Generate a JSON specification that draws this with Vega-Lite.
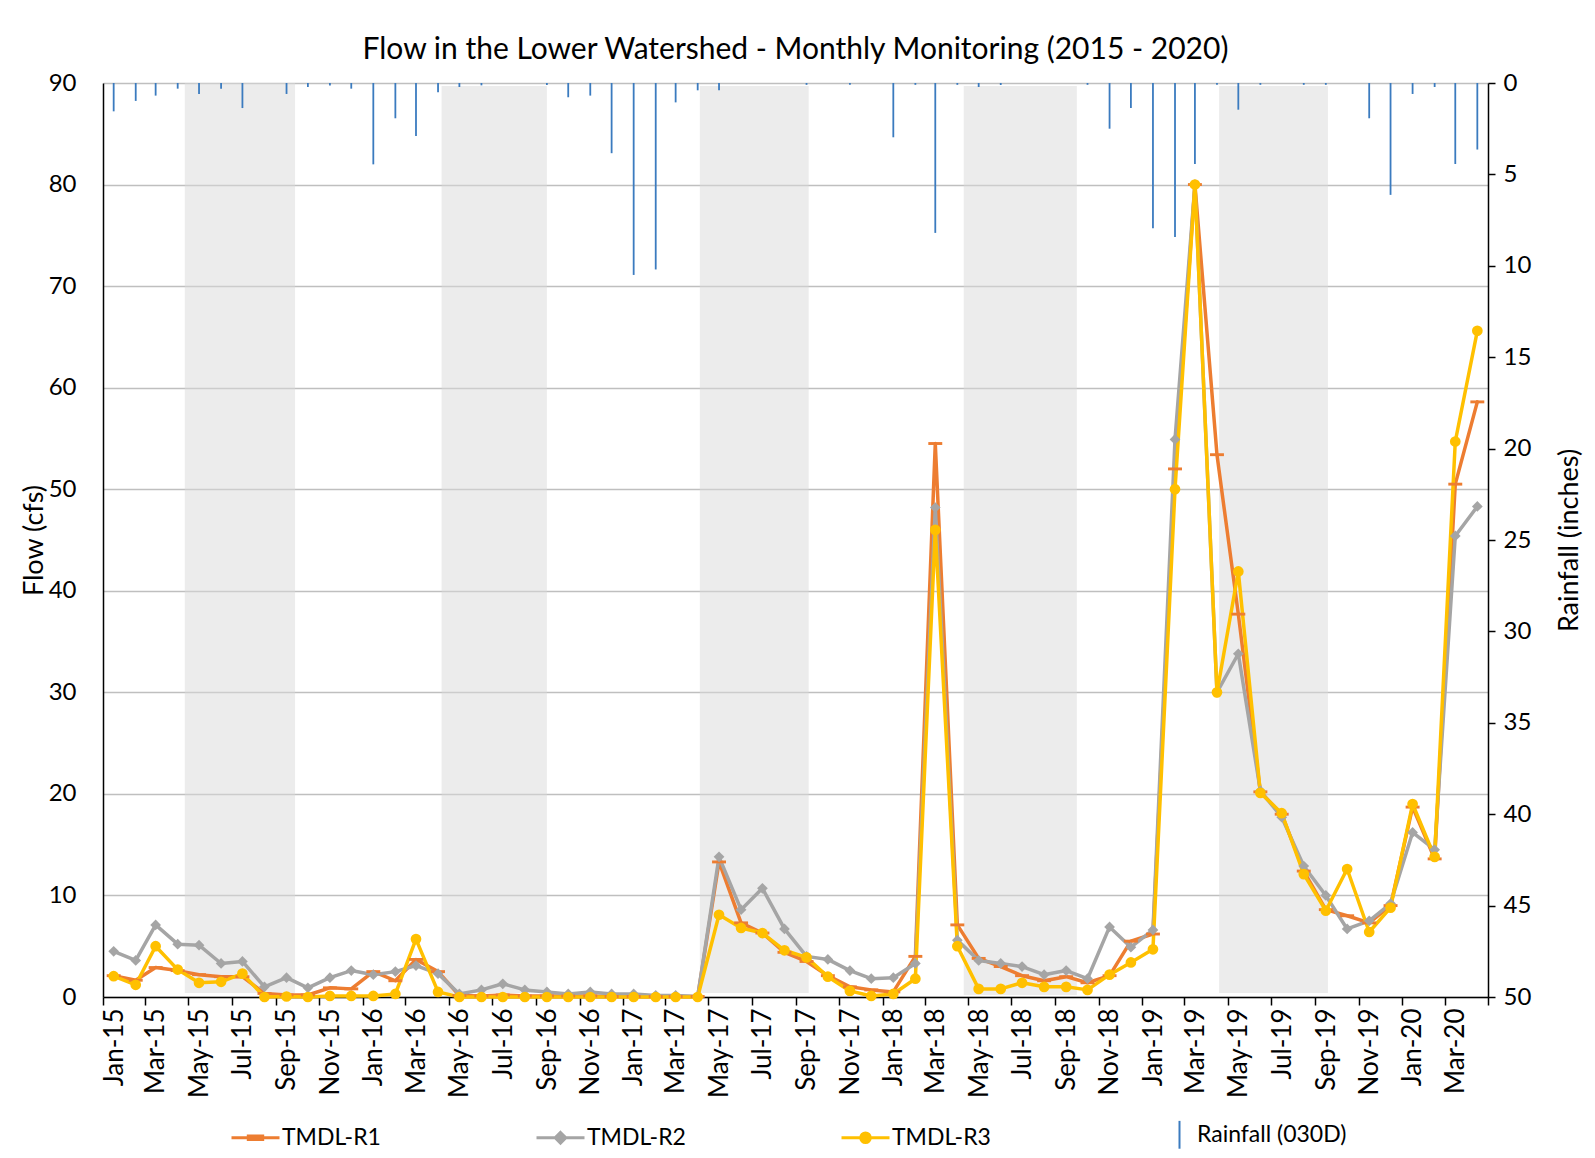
{
  "$schema": "https://vega.github.io/schema/vega-lite/v6.json",
  "width": 1385,
  "height": 914,
  "autosize": {"type": "none"},
  "padding": {"left": 103, "top": 83, "right": 107, "bottom": 161},
  "background": "#ffffff",
  "title": {"text": "Flow in the Lower Watershed - Monthly Monitoring (2015 - 2020)", "font": "Lato", "fontSize": 30, "fontWeight": "normal", "color": "#000000", "anchor": "middle", "offset": 6},
  "config": {
    "view": {"stroke": null},
    "font": "Lato",
    "axis": {"labelFont": "Lato", "titleFont": "Lato", "labelColor": "#000000", "titleColor": "#000000", "titleFontWeight": "normal"}
  },
  "datasets": {
    "bands": [
      {"start": "2015-04-26", "end": "2015-09-28", "lo": 0.4, "hi": 90},
      {"start": "2016-04-21", "end": "2016-09-16", "lo": 0.4, "hi": 89.7},
      {"start": "2017-04-19", "end": "2017-09-19", "lo": 0.4, "hi": 89.7},
      {"start": "2018-04-25", "end": "2018-10-01", "lo": 0.2, "hi": 89.7},
      {"start": "2019-04-19", "end": "2019-09-19", "lo": 0.4, "hi": 89.7}
    ],
    "flow": [
      {"date": "2015-01-16", "series": "TMDL-R1", "flow": 2.1},
      {"date": "2015-02-16", "series": "TMDL-R1", "flow": 1.65},
      {"date": "2015-03-16", "series": "TMDL-R1", "flow": 2.9},
      {"date": "2015-04-16", "series": "TMDL-R1", "flow": 2.6},
      {"date": "2015-05-16", "series": "TMDL-R1", "flow": 2.2},
      {"date": "2015-06-16", "series": "TMDL-R1", "flow": 2.0},
      {"date": "2015-07-16", "series": "TMDL-R1", "flow": 2.0},
      {"date": "2015-08-16", "series": "TMDL-R1", "flow": 0.35},
      {"date": "2015-09-16", "series": "TMDL-R1", "flow": 0.2},
      {"date": "2015-10-16", "series": "TMDL-R1", "flow": 0.2},
      {"date": "2015-11-16", "series": "TMDL-R1", "flow": 0.9},
      {"date": "2015-12-16", "series": "TMDL-R1", "flow": 0.8},
      {"date": "2016-01-16", "series": "TMDL-R1", "flow": 2.5},
      {"date": "2016-02-16", "series": "TMDL-R1", "flow": 1.6},
      {"date": "2016-03-16", "series": "TMDL-R1", "flow": 3.7},
      {"date": "2016-04-16", "series": "TMDL-R1", "flow": 2.5},
      {"date": "2016-05-16", "series": "TMDL-R1", "flow": 0.15},
      {"date": "2016-06-16", "series": "TMDL-R1", "flow": 0.1},
      {"date": "2016-07-16", "series": "TMDL-R1", "flow": 0.2},
      {"date": "2016-08-16", "series": "TMDL-R1", "flow": 0.1},
      {"date": "2016-09-16", "series": "TMDL-R1", "flow": 0.1},
      {"date": "2016-10-16", "series": "TMDL-R1", "flow": 0.1},
      {"date": "2016-11-16", "series": "TMDL-R1", "flow": 0.1},
      {"date": "2016-12-16", "series": "TMDL-R1", "flow": 0.05},
      {"date": "2017-01-16", "series": "TMDL-R1", "flow": 0.05},
      {"date": "2017-02-16", "series": "TMDL-R1", "flow": 0.05},
      {"date": "2017-03-16", "series": "TMDL-R1", "flow": 0.05},
      {"date": "2017-04-16", "series": "TMDL-R1", "flow": 0.05},
      {"date": "2017-05-16", "series": "TMDL-R1", "flow": 13.3},
      {"date": "2017-06-16", "series": "TMDL-R1", "flow": 7.3},
      {"date": "2017-07-16", "series": "TMDL-R1", "flow": 6.3},
      {"date": "2017-08-16", "series": "TMDL-R1", "flow": 4.4},
      {"date": "2017-09-16", "series": "TMDL-R1", "flow": 3.5},
      {"date": "2017-10-16", "series": "TMDL-R1", "flow": 2.1},
      {"date": "2017-11-16", "series": "TMDL-R1", "flow": 1.0},
      {"date": "2017-12-16", "series": "TMDL-R1", "flow": 0.7},
      {"date": "2018-01-16", "series": "TMDL-R1", "flow": 0.5},
      {"date": "2018-02-16", "series": "TMDL-R1", "flow": 4.0},
      {"date": "2018-03-16", "series": "TMDL-R1", "flow": 54.5},
      {"date": "2018-04-16", "series": "TMDL-R1", "flow": 7.1},
      {"date": "2018-05-16", "series": "TMDL-R1", "flow": 3.8},
      {"date": "2018-06-16", "series": "TMDL-R1", "flow": 3.0},
      {"date": "2018-07-16", "series": "TMDL-R1", "flow": 2.1},
      {"date": "2018-08-16", "series": "TMDL-R1", "flow": 1.6},
      {"date": "2018-09-16", "series": "TMDL-R1", "flow": 2.0},
      {"date": "2018-10-16", "series": "TMDL-R1", "flow": 1.4},
      {"date": "2018-11-16", "series": "TMDL-R1", "flow": 2.1},
      {"date": "2018-12-16", "series": "TMDL-R1", "flow": 5.5},
      {"date": "2019-01-16", "series": "TMDL-R1", "flow": 6.2},
      {"date": "2019-02-16", "series": "TMDL-R1", "flow": 52.0},
      {"date": "2019-03-16", "series": "TMDL-R1", "flow": 80.0},
      {"date": "2019-04-16", "series": "TMDL-R1", "flow": 53.4},
      {"date": "2019-05-16", "series": "TMDL-R1", "flow": 37.7},
      {"date": "2019-06-16", "series": "TMDL-R1", "flow": 20.2},
      {"date": "2019-07-16", "series": "TMDL-R1", "flow": 18.0},
      {"date": "2019-08-16", "series": "TMDL-R1", "flow": 12.4},
      {"date": "2019-09-16", "series": "TMDL-R1", "flow": 8.6},
      {"date": "2019-10-16", "series": "TMDL-R1", "flow": 8.0},
      {"date": "2019-11-16", "series": "TMDL-R1", "flow": 7.3},
      {"date": "2019-12-16", "series": "TMDL-R1", "flow": 9.0},
      {"date": "2020-01-16", "series": "TMDL-R1", "flow": 18.7},
      {"date": "2020-02-16", "series": "TMDL-R1", "flow": 13.6},
      {"date": "2020-03-16", "series": "TMDL-R1", "flow": 50.5},
      {"date": "2020-04-16", "series": "TMDL-R1", "flow": 58.6},
      {"date": "2015-01-16", "series": "TMDL-R2", "flow": 4.5},
      {"date": "2015-02-16", "series": "TMDL-R2", "flow": 3.6},
      {"date": "2015-03-16", "series": "TMDL-R2", "flow": 7.1},
      {"date": "2015-04-16", "series": "TMDL-R2", "flow": 5.2},
      {"date": "2015-05-16", "series": "TMDL-R2", "flow": 5.1},
      {"date": "2015-06-16", "series": "TMDL-R2", "flow": 3.3},
      {"date": "2015-07-16", "series": "TMDL-R2", "flow": 3.5},
      {"date": "2015-08-16", "series": "TMDL-R2", "flow": 1.0},
      {"date": "2015-09-16", "series": "TMDL-R2", "flow": 1.9},
      {"date": "2015-10-16", "series": "TMDL-R2", "flow": 0.9},
      {"date": "2015-11-16", "series": "TMDL-R2", "flow": 1.9},
      {"date": "2015-12-16", "series": "TMDL-R2", "flow": 2.6},
      {"date": "2016-01-16", "series": "TMDL-R2", "flow": 2.2},
      {"date": "2016-02-16", "series": "TMDL-R2", "flow": 2.5},
      {"date": "2016-03-16", "series": "TMDL-R2", "flow": 3.1},
      {"date": "2016-04-16", "series": "TMDL-R2", "flow": 2.3},
      {"date": "2016-05-16", "series": "TMDL-R2", "flow": 0.3},
      {"date": "2016-06-16", "series": "TMDL-R2", "flow": 0.7},
      {"date": "2016-07-16", "series": "TMDL-R2", "flow": 1.3},
      {"date": "2016-08-16", "series": "TMDL-R2", "flow": 0.7},
      {"date": "2016-09-16", "series": "TMDL-R2", "flow": 0.5},
      {"date": "2016-10-16", "series": "TMDL-R2", "flow": 0.3},
      {"date": "2016-11-16", "series": "TMDL-R2", "flow": 0.5},
      {"date": "2016-12-16", "series": "TMDL-R2", "flow": 0.3},
      {"date": "2017-01-16", "series": "TMDL-R2", "flow": 0.3},
      {"date": "2017-02-16", "series": "TMDL-R2", "flow": 0.15},
      {"date": "2017-03-16", "series": "TMDL-R2", "flow": 0.15},
      {"date": "2017-04-16", "series": "TMDL-R2", "flow": 0.05},
      {"date": "2017-05-16", "series": "TMDL-R2", "flow": 13.8},
      {"date": "2017-06-16", "series": "TMDL-R2", "flow": 8.6},
      {"date": "2017-07-16", "series": "TMDL-R2", "flow": 10.7},
      {"date": "2017-08-16", "series": "TMDL-R2", "flow": 6.7},
      {"date": "2017-09-16", "series": "TMDL-R2", "flow": 4.0},
      {"date": "2017-10-16", "series": "TMDL-R2", "flow": 3.7},
      {"date": "2017-11-16", "series": "TMDL-R2", "flow": 2.6},
      {"date": "2017-12-16", "series": "TMDL-R2", "flow": 1.8},
      {"date": "2018-01-16", "series": "TMDL-R2", "flow": 1.9},
      {"date": "2018-02-16", "series": "TMDL-R2", "flow": 3.3},
      {"date": "2018-03-16", "series": "TMDL-R2", "flow": 48.2},
      {"date": "2018-04-16", "series": "TMDL-R2", "flow": 5.6},
      {"date": "2018-05-16", "series": "TMDL-R2", "flow": 3.6},
      {"date": "2018-06-16", "series": "TMDL-R2", "flow": 3.3},
      {"date": "2018-07-16", "series": "TMDL-R2", "flow": 3.0},
      {"date": "2018-08-16", "series": "TMDL-R2", "flow": 2.2},
      {"date": "2018-09-16", "series": "TMDL-R2", "flow": 2.6},
      {"date": "2018-10-16", "series": "TMDL-R2", "flow": 1.8},
      {"date": "2018-11-16", "series": "TMDL-R2", "flow": 6.9},
      {"date": "2018-12-16", "series": "TMDL-R2", "flow": 4.9},
      {"date": "2019-01-16", "series": "TMDL-R2", "flow": 6.6},
      {"date": "2019-02-16", "series": "TMDL-R2", "flow": 54.9},
      {"date": "2019-03-16", "series": "TMDL-R2", "flow": 80.0},
      {"date": "2019-04-16", "series": "TMDL-R2", "flow": 30.0},
      {"date": "2019-05-16", "series": "TMDL-R2", "flow": 33.8},
      {"date": "2019-06-16", "series": "TMDL-R2", "flow": 20.3},
      {"date": "2019-07-16", "series": "TMDL-R2", "flow": 17.7},
      {"date": "2019-08-16", "series": "TMDL-R2", "flow": 12.9},
      {"date": "2019-09-16", "series": "TMDL-R2", "flow": 10.0},
      {"date": "2019-10-16", "series": "TMDL-R2", "flow": 6.7},
      {"date": "2019-11-16", "series": "TMDL-R2", "flow": 7.5},
      {"date": "2019-12-16", "series": "TMDL-R2", "flow": 9.2},
      {"date": "2020-01-16", "series": "TMDL-R2", "flow": 16.2},
      {"date": "2020-02-16", "series": "TMDL-R2", "flow": 14.5},
      {"date": "2020-03-16", "series": "TMDL-R2", "flow": 45.4},
      {"date": "2020-04-16", "series": "TMDL-R2", "flow": 48.3},
      {"date": "2015-01-16", "series": "TMDL-R3", "flow": 2.05},
      {"date": "2015-02-16", "series": "TMDL-R3", "flow": 1.2},
      {"date": "2015-03-16", "series": "TMDL-R3", "flow": 5.0},
      {"date": "2015-04-16", "series": "TMDL-R3", "flow": 2.7},
      {"date": "2015-05-16", "series": "TMDL-R3", "flow": 1.4},
      {"date": "2015-06-16", "series": "TMDL-R3", "flow": 1.5},
      {"date": "2015-07-16", "series": "TMDL-R3", "flow": 2.3},
      {"date": "2015-08-16", "series": "TMDL-R3", "flow": 0.0},
      {"date": "2015-09-16", "series": "TMDL-R3", "flow": 0.05},
      {"date": "2015-10-16", "series": "TMDL-R3", "flow": 0.0},
      {"date": "2015-11-16", "series": "TMDL-R3", "flow": 0.1},
      {"date": "2015-12-16", "series": "TMDL-R3", "flow": 0.1},
      {"date": "2016-01-16", "series": "TMDL-R3", "flow": 0.1},
      {"date": "2016-02-16", "series": "TMDL-R3", "flow": 0.3},
      {"date": "2016-03-16", "series": "TMDL-R3", "flow": 5.7},
      {"date": "2016-04-16", "series": "TMDL-R3", "flow": 0.5},
      {"date": "2016-05-16", "series": "TMDL-R3", "flow": 0.0},
      {"date": "2016-06-16", "series": "TMDL-R3", "flow": 0.0},
      {"date": "2016-07-16", "series": "TMDL-R3", "flow": 0.0},
      {"date": "2016-08-16", "series": "TMDL-R3", "flow": 0.0},
      {"date": "2016-09-16", "series": "TMDL-R3", "flow": 0.0},
      {"date": "2016-10-16", "series": "TMDL-R3", "flow": 0.0},
      {"date": "2016-11-16", "series": "TMDL-R3", "flow": 0.0},
      {"date": "2016-12-16", "series": "TMDL-R3", "flow": 0.0},
      {"date": "2017-01-16", "series": "TMDL-R3", "flow": 0.0},
      {"date": "2017-02-16", "series": "TMDL-R3", "flow": 0.0},
      {"date": "2017-03-16", "series": "TMDL-R3", "flow": 0.0},
      {"date": "2017-04-16", "series": "TMDL-R3", "flow": 0.0},
      {"date": "2017-05-16", "series": "TMDL-R3", "flow": 8.1},
      {"date": "2017-06-16", "series": "TMDL-R3", "flow": 6.8},
      {"date": "2017-07-16", "series": "TMDL-R3", "flow": 6.3},
      {"date": "2017-08-16", "series": "TMDL-R3", "flow": 4.6},
      {"date": "2017-09-16", "series": "TMDL-R3", "flow": 3.9},
      {"date": "2017-10-16", "series": "TMDL-R3", "flow": 2.0},
      {"date": "2017-11-16", "series": "TMDL-R3", "flow": 0.6},
      {"date": "2017-12-16", "series": "TMDL-R3", "flow": 0.1},
      {"date": "2018-01-16", "series": "TMDL-R3", "flow": 0.3},
      {"date": "2018-02-16", "series": "TMDL-R3", "flow": 1.8},
      {"date": "2018-03-16", "series": "TMDL-R3", "flow": 46.0},
      {"date": "2018-04-16", "series": "TMDL-R3", "flow": 5.0},
      {"date": "2018-05-16", "series": "TMDL-R3", "flow": 0.8},
      {"date": "2018-06-16", "series": "TMDL-R3", "flow": 0.8},
      {"date": "2018-07-16", "series": "TMDL-R3", "flow": 1.4},
      {"date": "2018-08-16", "series": "TMDL-R3", "flow": 1.0},
      {"date": "2018-09-16", "series": "TMDL-R3", "flow": 1.0},
      {"date": "2018-10-16", "series": "TMDL-R3", "flow": 0.7},
      {"date": "2018-11-16", "series": "TMDL-R3", "flow": 2.2},
      {"date": "2018-12-16", "series": "TMDL-R3", "flow": 3.4},
      {"date": "2019-01-16", "series": "TMDL-R3", "flow": 4.7},
      {"date": "2019-02-16", "series": "TMDL-R3", "flow": 50.0},
      {"date": "2019-03-16", "series": "TMDL-R3", "flow": 80.0},
      {"date": "2019-04-16", "series": "TMDL-R3", "flow": 30.0},
      {"date": "2019-05-16", "series": "TMDL-R3", "flow": 41.9},
      {"date": "2019-06-16", "series": "TMDL-R3", "flow": 20.1},
      {"date": "2019-07-16", "series": "TMDL-R3", "flow": 18.1},
      {"date": "2019-08-16", "series": "TMDL-R3", "flow": 12.1},
      {"date": "2019-09-16", "series": "TMDL-R3", "flow": 8.5},
      {"date": "2019-10-16", "series": "TMDL-R3", "flow": 12.6},
      {"date": "2019-11-16", "series": "TMDL-R3", "flow": 6.4},
      {"date": "2019-12-16", "series": "TMDL-R3", "flow": 8.8},
      {"date": "2020-01-16", "series": "TMDL-R3", "flow": 19.0},
      {"date": "2020-02-16", "series": "TMDL-R3", "flow": 13.8},
      {"date": "2020-03-16", "series": "TMDL-R3", "flow": 54.7},
      {"date": "2020-04-16", "series": "TMDL-R3", "flow": 65.6}
    ],
    "rain": [
      {"date": "2015-01-16", "series": "Rainfall (030D)", "rain": 1.55},
      {"date": "2015-02-16", "series": "Rainfall (030D)", "rain": 0.98},
      {"date": "2015-03-16", "series": "Rainfall (030D)", "rain": 0.69},
      {"date": "2015-04-16", "series": "Rainfall (030D)", "rain": 0.31},
      {"date": "2015-05-16", "series": "Rainfall (030D)", "rain": 0.6},
      {"date": "2015-06-16", "series": "Rainfall (030D)", "rain": 0.31},
      {"date": "2015-07-16", "series": "Rainfall (030D)", "rain": 1.37},
      {"date": "2015-08-16", "series": "Rainfall (030D)", "rain": 0},
      {"date": "2015-09-16", "series": "Rainfall (030D)", "rain": 0.6},
      {"date": "2015-10-16", "series": "Rainfall (030D)", "rain": 0.22},
      {"date": "2015-11-16", "series": "Rainfall (030D)", "rain": 0.13},
      {"date": "2015-12-16", "series": "Rainfall (030D)", "rain": 0.31},
      {"date": "2016-01-16", "series": "Rainfall (030D)", "rain": 4.45},
      {"date": "2016-02-16", "series": "Rainfall (030D)", "rain": 1.93},
      {"date": "2016-03-16", "series": "Rainfall (030D)", "rain": 2.9},
      {"date": "2016-04-16", "series": "Rainfall (030D)", "rain": 0.51},
      {"date": "2016-05-16", "series": "Rainfall (030D)", "rain": 0.22},
      {"date": "2016-06-16", "series": "Rainfall (030D)", "rain": 0.13},
      {"date": "2016-07-16", "series": "Rainfall (030D)", "rain": 0},
      {"date": "2016-08-16", "series": "Rainfall (030D)", "rain": 0},
      {"date": "2016-09-16", "series": "Rainfall (030D)", "rain": 0.11},
      {"date": "2016-10-16", "series": "Rainfall (030D)", "rain": 0.78},
      {"date": "2016-11-16", "series": "Rainfall (030D)", "rain": 0.69},
      {"date": "2016-12-16", "series": "Rainfall (030D)", "rain": 3.84},
      {"date": "2017-01-16", "series": "Rainfall (030D)", "rain": 10.5},
      {"date": "2017-02-16", "series": "Rainfall (030D)", "rain": 10.2},
      {"date": "2017-03-16", "series": "Rainfall (030D)", "rain": 1.06},
      {"date": "2017-04-16", "series": "Rainfall (030D)", "rain": 0.4},
      {"date": "2017-05-16", "series": "Rainfall (030D)", "rain": 0.4},
      {"date": "2017-06-16", "series": "Rainfall (030D)", "rain": 0},
      {"date": "2017-07-16", "series": "Rainfall (030D)", "rain": 0},
      {"date": "2017-08-16", "series": "Rainfall (030D)", "rain": 0},
      {"date": "2017-09-16", "series": "Rainfall (030D)", "rain": 0.1},
      {"date": "2017-10-16", "series": "Rainfall (030D)", "rain": 0},
      {"date": "2017-11-16", "series": "Rainfall (030D)", "rain": 0.1},
      {"date": "2017-12-16", "series": "Rainfall (030D)", "rain": 0},
      {"date": "2018-01-16", "series": "Rainfall (030D)", "rain": 2.97},
      {"date": "2018-02-16", "series": "Rainfall (030D)", "rain": 0.1},
      {"date": "2018-03-16", "series": "Rainfall (030D)", "rain": 8.2},
      {"date": "2018-04-16", "series": "Rainfall (030D)", "rain": 0.1},
      {"date": "2018-05-16", "series": "Rainfall (030D)", "rain": 0.22},
      {"date": "2018-06-16", "series": "Rainfall (030D)", "rain": 0.11},
      {"date": "2018-07-16", "series": "Rainfall (030D)", "rain": 0},
      {"date": "2018-08-16", "series": "Rainfall (030D)", "rain": 0},
      {"date": "2018-09-16", "series": "Rainfall (030D)", "rain": 0},
      {"date": "2018-10-16", "series": "Rainfall (030D)", "rain": 0.1},
      {"date": "2018-11-16", "series": "Rainfall (030D)", "rain": 2.5},
      {"date": "2018-12-16", "series": "Rainfall (030D)", "rain": 1.37},
      {"date": "2019-01-16", "series": "Rainfall (030D)", "rain": 7.94},
      {"date": "2019-02-16", "series": "Rainfall (030D)", "rain": 8.43},
      {"date": "2019-03-16", "series": "Rainfall (030D)", "rain": 4.43},
      {"date": "2019-04-16", "series": "Rainfall (030D)", "rain": 0.1},
      {"date": "2019-05-16", "series": "Rainfall (030D)", "rain": 1.46},
      {"date": "2019-06-16", "series": "Rainfall (030D)", "rain": 0.1},
      {"date": "2019-07-16", "series": "Rainfall (030D)", "rain": 0},
      {"date": "2019-08-16", "series": "Rainfall (030D)", "rain": 0.1},
      {"date": "2019-09-16", "series": "Rainfall (030D)", "rain": 0.1},
      {"date": "2019-10-16", "series": "Rainfall (030D)", "rain": 0},
      {"date": "2019-11-16", "series": "Rainfall (030D)", "rain": 1.93},
      {"date": "2019-12-16", "series": "Rainfall (030D)", "rain": 6.12},
      {"date": "2020-01-16", "series": "Rainfall (030D)", "rain": 0.6},
      {"date": "2020-02-16", "series": "Rainfall (030D)", "rain": 0.22},
      {"date": "2020-03-16", "series": "Rainfall (030D)", "rain": 4.43},
      {"date": "2020-04-16", "series": "Rainfall (030D)", "rain": 3.64}
    ]
  },
  "layer": [
    {
      "layer": [
        {
          "data": {"name": "bands"},
          "mark": {"type": "rect", "fill": "#d9d9d9", "opacity": 0.5},
          "encoding": {
            "x": {"field": "start", "type": "temporal",
              "scale": {"type": "utc", "domain": ["2015-01-01", "2020-05-01"], "nice": false},
              "axis": {"orient": "bottom", "title": null, "grid": false,
                "tickCount": {"interval": "month", "step": 2},
                "labelExpr": "utcFormat(datum.value, '%b-%y') == 'May-20' ? '' : utcFormat(datum.value, '%b-%y')",
                "labelAngle": 270, "labelAlign": "right", "labelBaseline": "middle",
                "labelOffset": 11, "labelPadding": 3, "labelFontSize": 26, "labelOverlap": false,
                "labelFlush": false,
                "domainColor": "#000000", "domainWidth": 1.5, "tickColor": "#000000", "tickSize": 8, "tickWidth": 1.5}},
            "x2": {"field": "end"},
            "y": {"field": "lo", "type": "quantitative",
              "scale": {"domain": [0, 90], "nice": false, "zero": true},
              "axis": {"orient": "left", "values": [0, 10, 20, 30, 40, 50, 60, 70, 80, 90],
                "grid": true, "gridColor": "#BFBFBF", "gridWidth": 1.5,
                "domainColor": "#000000", "domainWidth": 1.5, "ticks": false,
                "labelPadding": 27, "labelFontSize": 24,
                "title": "Flow (cfs)", "titleFontSize": 27, "titlePadding": 0}},
            "y2": {"field": "hi"}
          }
        },
        {
          "data": {"name": "flow"},
          "mark": {"type": "line", "strokeWidth": 3.5, "strokeJoin": "round", "strokeCap": "round"},
          "encoding": {
            "x": {"field": "date", "type": "temporal", "scale": {"type": "utc", "domain": ["2015-01-01", "2020-05-01"], "nice": false}},
            "y": {"field": "flow", "type": "quantitative", "scale": {"domain": [0, 90], "nice": false, "zero": true}},
            "color": {"field": "series", "type": "nominal",
              "scale": {"domain": ["TMDL-R1", "TMDL-R2", "TMDL-R3", "Rainfall (030D)"],
                "range": ["#ED7D31", "#A5A5A5", "#FFC000", "#3B7BBF"]},
              "legend": {"orient": "none", "legendX": 141, "legendY": 1040, "direction": "horizontal",
                "columns": 4, "gridAlign": "all", "columnPadding": 98, "title": null,
                "symbolSize": 2304, "symbolStrokeWidth": 3,
                "labelFont": "Lato", "labelFontSize": 23, "labelColor": "#000000", "labelOffset": 15, "labelLimit": 400,
                "encode": {"symbols": {"update": {
                  "shape": {"signal": "datum.value === 'TMDL-R1' ? 'M-1,0H1M-0.3,-0.07H0.3V0.07H-0.3Z' : datum.value === 'TMDL-R2' ? 'M-1,0H1M0,-0.22L0.22,0L0,0.22L-0.22,0Z' : datum.value === 'TMDL-R3' ? 'M-1,0H1M-0.2,0A0.2,0.2 0 1,0 0.2,0A0.2,0.2 0 1,0 -0.2,0Z' : 'M0.375,-0.58V0.58'"},
                  "size": {"value": 2304},
                  "fill": {"signal": "datum.value === 'Rainfall (030D)' ? 'transparent' : scale('color', datum.value)"},
                  "stroke": {"signal": "scale('color', datum.value)"},
                  "strokeWidth": {"signal": "datum.value === 'Rainfall (030D)' ? 2 : 3"},
                  "opacity": {"value": 1}
                }}}}
            }
          }
        },
        {
          "data": {"name": "flow"},
          "mark": {"type": "point", "filled": true, "opacity": 1, "strokeWidth": 0, "size": 115},
          "encoding": {
            "x": {"field": "date", "type": "temporal", "scale": {"type": "utc", "domain": ["2015-01-01", "2020-05-01"], "nice": false}},
            "y": {"field": "flow", "type": "quantitative", "scale": {"domain": [0, 90], "nice": false, "zero": true}},
            "color": {"field": "series", "type": "nominal"},
            "shape": {"field": "series", "type": "nominal",
              "scale": {"domain": ["TMDL-R1", "TMDL-R2", "TMDL-R3"], "range": ["M-1.3,-0.27H1.3V0.27H-1.3Z", "diamond", "circle"]},
              "legend": null}
          }
        }
      ]
    },
    {
      "data": {"name": "rain"},
      "mark": {"type": "rule", "strokeWidth": 1.8},
      "encoding": {
        "x": {"field": "date", "type": "temporal", "scale": {"type": "utc", "domain": ["2015-01-01", "2020-05-01"], "nice": false}},
        "y": {"field": "rain", "type": "quantitative",
          "scale": {"domain": [0, 50], "reverse": true, "nice": false, "zero": true},
          "axis": {"orient": "right", "values": [0, 5, 10, 15, 20, 25, 30, 35, 40, 45, 50], "grid": false,
            "domainColor": "#000000", "domainWidth": 1.5, "tickColor": "#000000", "tickSize": 7, "tickWidth": 1.5,
            "labelPadding": 8, "labelFontSize": 24,
            "title": "Rainfall (inches)", "titleAngle": 270, "titleBaseline": "top", "titleFontSize": 27, "titlePadding": 26}},
        "y2": {"datum": 0},
        "color": {"field": "series", "type": "nominal"}
      }
    }
  ],
  "resolve": {"scale": {"y": "independent"}}
}
